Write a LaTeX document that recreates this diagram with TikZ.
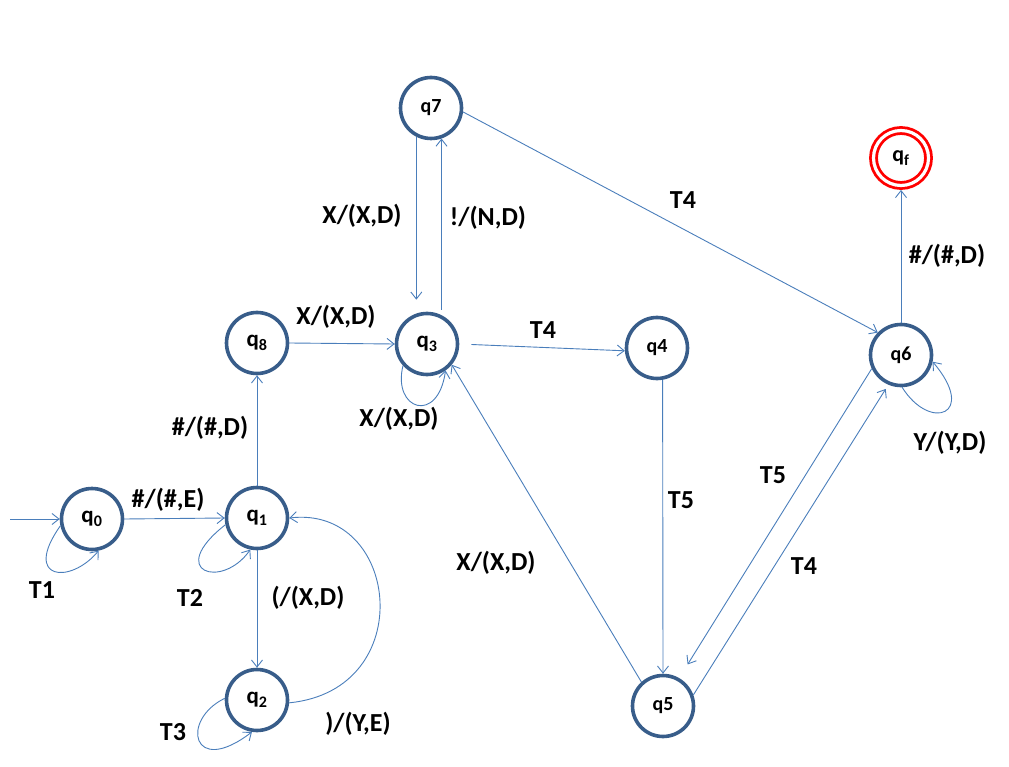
\documentclass[tikz,border=0pt]{standalone}
\usepackage{fontspec}
\setmainfont{Carlito}
\usetikzlibrary{arrows.meta}
\definecolor{nodeblue}{HTML}{385D8A}
\definecolor{edgeblue}{HTML}{4A7EBB}
\begin{document}
\begin{tikzpicture}[x=1pt,y=-1pt,
  state/.style={circle,draw=nodeblue,line width=3.6pt,minimum size=61pt,inner sep=0pt,
    font=\fontsize{23}{23}\selectfont\bfseries},
  smallstate/.style={state,font=\fontsize{20}{20}\selectfont\bfseries},
  final/.style={circle,draw=red,line width=2.8pt,double=white,double distance=3.2pt,
    minimum size=55pt,inner sep=0pt,outer sep=4.4pt,font=\fontsize{22}{22}\selectfont\bfseries},
  edge/.style={draw=edgeblue,line width=0.9pt,-{Straight Barb[length=7pt,width=11pt]}},
  lbl/.style={font=\fontsize{26}{26}\selectfont\bfseries,inner sep=0pt}]
\useasboundingbox (0,0) rectangle (1009,767);

\node[state] (q0) at (92,519) {q\textsubscript{0}};
\node[state] (q1) at (257,518) {q\textsubscript{1}};
\node[state] (q2) at (257,700) {q\textsubscript{2}};
\node[state] (q8) at (257,343) {q\textsubscript{8}};
\node[state] (q3) at (427,344) {q\textsubscript{3}};
\node[smallstate] (q7) at (431,108) {q7};
\node[smallstate] (q4) at (657,348) {q4};
\node[smallstate] (q5) at (663,706) {q5};
\node[smallstate] (q6) at (901,355) {q6};
\node[final] (qf) at (901,158) {q\textsubscript{f}};

\coordinate (init) at (10,519);
\draw[edge] (init) -- (q0.west);
\draw[edge] (q0.192) .. controls (22,580) and (70,585) .. (q0.282);
\draw[edge] (q0.east) -- (q1.west);
\draw[edge] (q1.192) .. controls (165,572) and (222,590) .. (q1.258);
\draw[edge] (q1.south) -- (q2.north);
\draw[edge] (q2.177) .. controls (180,720) and (192,778) .. (q2.261);
\draw[edge] (q2.355) .. controls (420,690) and (400,505) .. (q1.0);
\draw[edge] (q1.north) -- (q8.south);
\draw[edge] (q8.east) -- (q3.west);
\draw[edge] (q3.222) .. controls (392,410) and (438,425) .. (q3.305);
\draw[edge,shorten >=12pt] (q7.243) -- (q7.243 |- q3.north);
\draw[edge,shorten <=2pt] (q7.289 |- q3.north) -- (q7.289);
\draw[edge] (q7.353) -- (q6.136);
\draw[edge,shorten <=12pt] (q3.east) -- (q4.185);
\draw[edge] (q4.280) -- (q5.north);
\draw[edge] (q5.132) -- (q3.320);
\draw[edge,shorten >=16pt] (q6.205) -- (q5.60);
\draw[edge,shorten >=5pt] (q5.20) -- (q6.247);
\draw[edge] (q6.north) -- (qf.south);
\draw[edge] (q6.272) .. controls (930,432) and (978,415) .. (q6.348);

\node[lbl] (l1) at (42,590) {T1};
\node[lbl] (l2) at (168,500) {\#/(\#,E)};
\node[lbl] (l3) at (190,598) {T2};
\node[lbl] (l4) at (308,598) {(/(X,D)};
\node[lbl] (l5) at (173,732) {T3};
\node[lbl] (l6) at (358,724) {)/(Y,E)};
\node[lbl] (l7) at (210,428) {\#/(\#,D)};
\node[lbl] (l8) at (336,317) {X/(X,D)};
\node[lbl] (l9) at (399,419) {X/(X,D)};
\node[lbl] (l10) at (362,216) {X/(X,D)};
\node[lbl] (l11) at (488,218) {!/(N,D)};
\node[lbl] (l12) at (683,200) {T4};
\node[lbl] (l13) at (543,330) {T4};
\node[lbl] (l14) at (681,500) {T5};
\node[lbl] (l15) at (496,563) {X/(X,D)};
\node[lbl] (l16) at (773,475) {T5};
\node[lbl] (l17) at (804,566) {T4};
\node[lbl] (l18) at (947,256) {\#/(\#,D)};
\node[lbl] (l19) at (950,443) {Y/(Y,D)};
\end{tikzpicture}
\end{document}
